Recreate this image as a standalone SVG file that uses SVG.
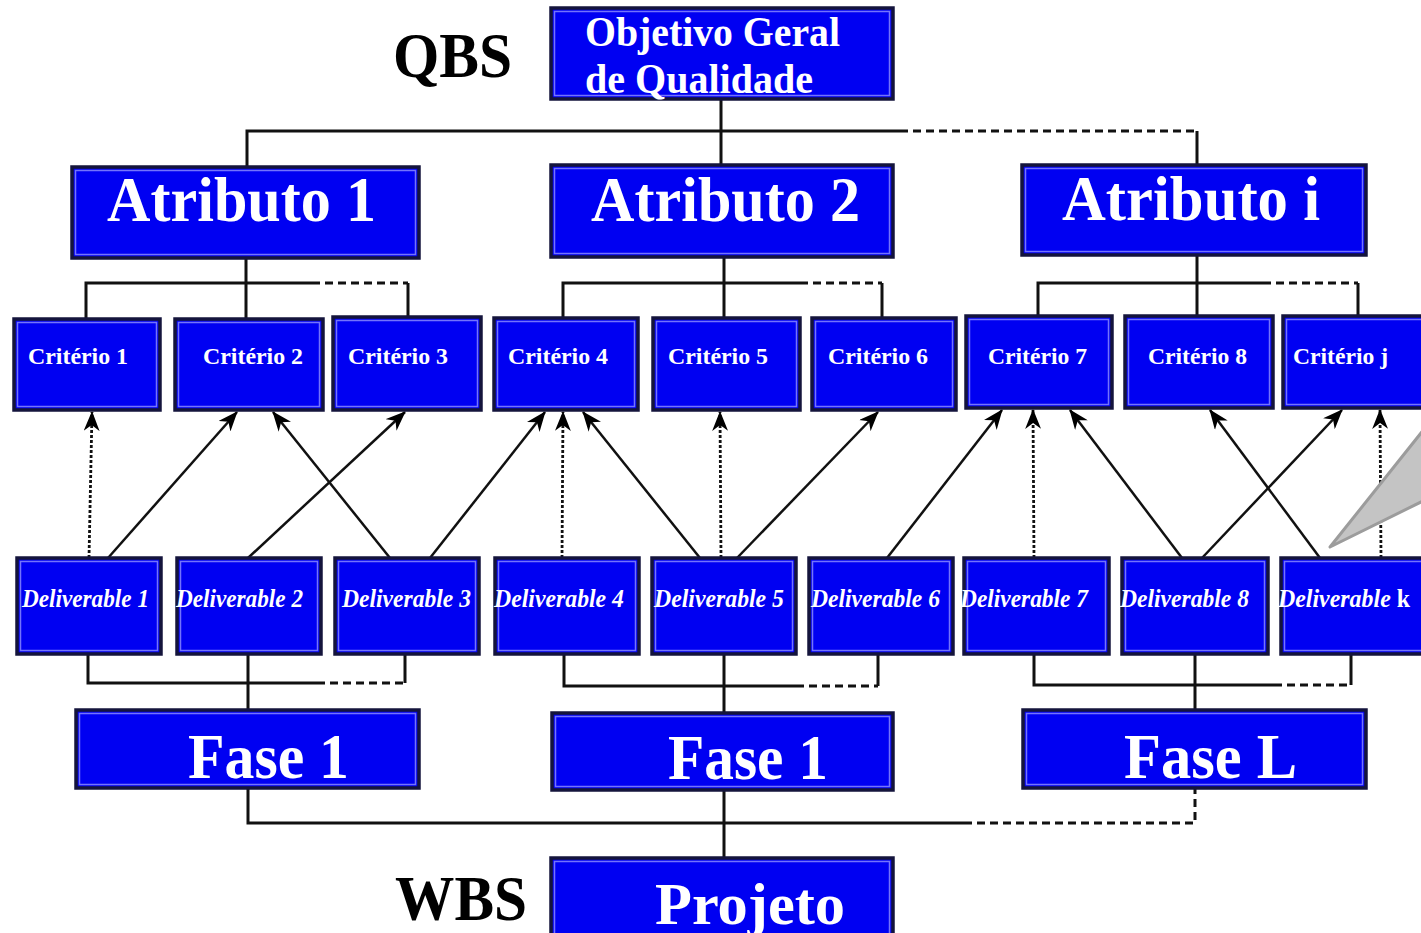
<svg xmlns="http://www.w3.org/2000/svg" width="1421" height="933" viewBox="0 0 1421 933">
  <style>
    .box { fill: #0000f2; stroke: #14143c; stroke-width: 3.5; }
    .hl { fill: none; stroke: #9a9aff; stroke-width: 1.5; opacity: 0.75; }
    .t { font-family: "Liberation Serif", "Times New Roman", serif; font-weight: bold; fill: #ffffff; }
    .big { font-size: 64px; }
    .mid { font-size: 43px; }
    .crit { font-size: 24px; }
    .del { font-size: 25px; font-style: italic; }
    .up { font-style: normal; }
    .lbl { font-family: "Liberation Serif", "Times New Roman", serif; font-weight: bold; font-size: 64px; fill: #000000; }
    .ln { fill: none; stroke: #111111; stroke-width: 3; }
    .dash { fill: none; stroke: #111111; stroke-width: 3; stroke-dasharray: 8 5; }
    .arr { fill: none; stroke: #111111; stroke-width: 2.5; marker-end: url(#head); }
    .dot { fill: none; stroke: #111111; stroke-width: 2.8; stroke-dasharray: 3 2; marker-end: url(#head); }
    .callout { fill: #c4c4c4; stroke: #9c9c9c; stroke-width: 3; stroke-linejoin: round; }
  </style>
  <defs>
    <marker id="head" viewBox="0 0 20 16" refX="19" refY="8" markerWidth="20" markerHeight="16" markerUnits="userSpaceOnUse" orient="auto">
      <path d="M0,0 L20,8 L0,16 L6,8 z" fill="#000000"/>
    </marker>
  </defs>

  <rect width="1421" height="933" fill="#ffffff"/>

  <!-- side labels -->
  <text class="lbl" x="393" y="77" textLength="119" lengthAdjust="spacingAndGlyphs">QBS</text>
  <text class="lbl" x="395" y="920" textLength="132" lengthAdjust="spacingAndGlyphs">WBS</text>

  <g id="connectors">
    <!-- goal to attributes -->
    <path class="ln" d="M721,99 V165 M247,167 V131 H900 M1197,131 V165"/>
    <path class="dash" d="M900,131 H1197"/>
    <!-- attribute 1 to criteria 1-3 -->
    <path class="ln" d="M246,258 V319 M86,319 V283 H312 M408,283 V316"/>
    <path class="dash" d="M312,283 H408"/>
    <!-- attribute 2 to criteria 4-6 -->
    <path class="ln" d="M724,257 V318 M563,318 V283 H800 M882,283 V318"/>
    <path class="dash" d="M800,283 H882"/>
    <!-- attribute i to criteria 7-j -->
    <path class="ln" d="M1197,255 V316 M1038,316 V283 H1263 M1358,283 V316"/>
    <path class="dash" d="M1263,283 H1358"/>

    <!-- deliverables to criteria -->
    <line class="dot" x1="89" y1="558" x2="92" y2="412"/>
    <line class="arr" x1="108" y1="558" x2="237" y2="412"/>
    <line class="arr" x1="248" y1="558" x2="405" y2="412"/>
    <line class="arr" x1="390" y1="558" x2="273" y2="412"/>
    <line class="arr" x1="430" y1="558" x2="545" y2="412"/>
    <line class="dot" x1="562" y1="558" x2="563" y2="412"/>
    <line class="arr" x1="700" y1="558" x2="583" y2="412"/>
    <line class="dot" x1="721" y1="558" x2="720" y2="412"/>
    <line class="arr" x1="737" y1="558" x2="878" y2="412"/>
    <line class="arr" x1="887" y1="558" x2="1002" y2="410"/>
    <line class="dot" x1="1034" y1="558" x2="1033" y2="410"/>
    <line class="arr" x1="1182" y1="558" x2="1070" y2="410"/>
    <line class="arr" x1="1202" y1="558" x2="1342" y2="410"/>
    <line class="arr" x1="1320" y1="558" x2="1210" y2="410"/>
    <line class="dot" x1="1381" y1="558" x2="1380" y2="410"/>

    <!-- deliverables to phases -->
    <path class="ln" d="M88,654 V683 H317 M248,654 V710 M405,654 V683"/>
    <path class="dash" d="M317,683 H405"/>
    <path class="ln" d="M564,654 V686 H796 M724,654 V713 M878,654 V686"/>
    <path class="dash" d="M796,686 H878"/>
    <path class="ln" d="M1034,654 V685 H1274 M1195,654 V710 M1351,654 V685"/>
    <path class="dash" d="M1274,685 H1351"/>

    <!-- phases to project -->
    <path class="ln" d="M248,788 V823 H964 M724,790 V858"/>
    <path class="dash" d="M964,823 H1195 V788"/>
  </g>

  <g id="goal">
    <rect class="box" x="551" y="8" width="342" height="91"/>
    <rect class="hl" x="554.5" y="11.5" width="335" height="84"/>
    <text class="t mid" x="585" y="46" textLength="255" lengthAdjust="spacingAndGlyphs">Objetivo Geral</text>
    <text class="t mid" x="585" y="93" textLength="228" lengthAdjust="spacingAndGlyphs">de Qualidade</text>
  </g>

  <g id="attr1">
    <rect class="box" x="72" y="167" width="347" height="91"/>
    <rect class="hl" x="75.5" y="170.5" width="340" height="84"/>
    <text class="t big" x="107" y="221" textLength="269" lengthAdjust="spacingAndGlyphs">Atributo 1</text>
  </g>
  <g id="attr2">
    <rect class="box" x="551" y="165" width="342" height="92"/>
    <rect class="hl" x="554.5" y="168.5" width="335" height="85"/>
    <text class="t big" x="591" y="221" textLength="269" lengthAdjust="spacingAndGlyphs">Atributo 2</text>
  </g>
  <g id="attri">
    <rect class="box" x="1022" y="165" width="344" height="90"/>
    <rect class="hl" x="1025.5" y="168.5" width="337" height="83"/>
    <text class="t big" x="1062" y="220" textLength="258" lengthAdjust="spacingAndGlyphs">Atributo i</text>
  </g>

  <g id="crit1">
    <rect class="box" x="14" y="319" width="146" height="91"/>
    <rect class="hl" x="17.5" y="322.5" width="139" height="84"/>
    <text class="t crit" x="28" y="364" textLength="100" lengthAdjust="spacingAndGlyphs">Critério 1</text>
  </g>
  <g id="crit2">
    <rect class="box" x="175" y="319" width="148" height="91"/>
    <rect class="hl" x="178.5" y="322.5" width="141" height="84"/>
    <text class="t crit" x="203" y="364" textLength="100" lengthAdjust="spacingAndGlyphs">Critério 2</text>
  </g>
  <g id="crit3">
    <rect class="box" x="333" y="317" width="148" height="93"/>
    <rect class="hl" x="336.5" y="320.5" width="141" height="86"/>
    <text class="t crit" x="348" y="364" textLength="100" lengthAdjust="spacingAndGlyphs">Critério 3</text>
  </g>
  <g id="crit4">
    <rect class="box" x="494" y="318" width="144" height="92"/>
    <rect class="hl" x="497.5" y="321.5" width="137" height="85"/>
    <text class="t crit" x="508" y="364" textLength="100" lengthAdjust="spacingAndGlyphs">Critério 4</text>
  </g>
  <g id="crit5">
    <rect class="box" x="653" y="318" width="147" height="92"/>
    <rect class="hl" x="656.5" y="321.5" width="140" height="85"/>
    <text class="t crit" x="668" y="364" textLength="100" lengthAdjust="spacingAndGlyphs">Critério 5</text>
  </g>
  <g id="crit6">
    <rect class="box" x="812" y="318" width="144" height="92"/>
    <rect class="hl" x="815.5" y="321.5" width="137" height="85"/>
    <text class="t crit" x="828" y="364" textLength="100" lengthAdjust="spacingAndGlyphs">Critério 6</text>
  </g>
  <g id="crit7">
    <rect class="box" x="966" y="316" width="146" height="92"/>
    <rect class="hl" x="969.5" y="319.5" width="139" height="85"/>
    <text class="t crit" x="988" y="364" textLength="99" lengthAdjust="spacingAndGlyphs">Critério 7</text>
  </g>
  <g id="crit8">
    <rect class="box" x="1125" y="316" width="148" height="92"/>
    <rect class="hl" x="1128.5" y="319.5" width="141" height="85"/>
    <text class="t crit" x="1148" y="364" textLength="99" lengthAdjust="spacingAndGlyphs">Critério 8</text>
  </g>
  <g id="critj">
    <rect class="box" x="1283" y="316" width="145" height="92"/>
    <rect class="hl" x="1286.5" y="319.5" width="138" height="85"/>
    <text class="t crit" x="1293" y="364" textLength="95" lengthAdjust="spacingAndGlyphs">Critério j</text>
  </g>

  <g id="deliv1">
    <rect class="box" x="17" y="558" width="144" height="96"/>
    <rect class="hl" x="20.5" y="561.5" width="137" height="89"/>
    <text class="t del" x="22" y="607" textLength="127" lengthAdjust="spacingAndGlyphs">Deliverable 1</text>
  </g>
  <g id="deliv2">
    <rect class="box" x="177" y="558" width="144" height="96"/>
    <rect class="hl" x="180.5" y="561.5" width="137" height="89"/>
    <text class="t del" x="176" y="607" textLength="127" lengthAdjust="spacingAndGlyphs">Deliverable 2</text>
  </g>
  <g id="deliv3">
    <rect class="box" x="335" y="558" width="144" height="96"/>
    <rect class="hl" x="338.5" y="561.5" width="137" height="89"/>
    <text class="t del" x="342" y="607" textLength="129" lengthAdjust="spacingAndGlyphs">Deliverable 3</text>
  </g>
  <g id="deliv4">
    <rect class="box" x="495" y="558" width="144" height="96"/>
    <rect class="hl" x="498.5" y="561.5" width="137" height="89"/>
    <text class="t del" x="494" y="607" textLength="130" lengthAdjust="spacingAndGlyphs">Deliverable 4</text>
  </g>
  <g id="deliv5">
    <rect class="box" x="652" y="558" width="144" height="96"/>
    <rect class="hl" x="655.5" y="561.5" width="137" height="89"/>
    <text class="t del" x="654" y="607" textLength="130" lengthAdjust="spacingAndGlyphs">Deliverable 5</text>
  </g>
  <g id="deliv6">
    <rect class="box" x="809" y="558" width="144" height="96"/>
    <rect class="hl" x="812.5" y="561.5" width="137" height="89"/>
    <text class="t del" x="811" y="607" textLength="129" lengthAdjust="spacingAndGlyphs">Deliverable 6</text>
  </g>
  <g id="deliv7">
    <rect class="box" x="964" y="558" width="145" height="96"/>
    <rect class="hl" x="967.5" y="561.5" width="138" height="89"/>
    <text class="t del" x="960" y="607" textLength="128" lengthAdjust="spacingAndGlyphs">Deliverable 7</text>
  </g>
  <g id="deliv8">
    <rect class="box" x="1122" y="558" width="146" height="96"/>
    <rect class="hl" x="1125.5" y="561.5" width="139" height="89"/>
    <text class="t del" x="1120" y="607" textLength="129" lengthAdjust="spacingAndGlyphs">Deliverable 8</text>
  </g>
  <g id="delivk">
    <rect class="box" x="1281" y="558" width="147" height="96"/>
    <rect class="hl" x="1284.5" y="561.5" width="140" height="89"/>
    <text class="t del" x="1278" y="607" textLength="132" lengthAdjust="spacingAndGlyphs">Deliverable <tspan class="up">k</tspan></text>
  </g>

  <g id="fase1a">
    <rect class="box" x="76" y="710" width="343" height="78"/>
    <rect class="hl" x="79.5" y="713.5" width="336" height="71"/>
    <text class="t big" x="188" y="778" textLength="161" lengthAdjust="spacingAndGlyphs">Fase 1</text>
  </g>
  <g id="fase1b">
    <rect class="box" x="552" y="713" width="341" height="77"/>
    <rect class="hl" x="555.5" y="716.5" width="334" height="70"/>
    <text class="t big" x="668" y="779" textLength="160" lengthAdjust="spacingAndGlyphs">Fase 1</text>
  </g>
  <g id="faseL">
    <rect class="box" x="1023" y="710" width="343" height="78"/>
    <rect class="hl" x="1026.5" y="713.5" width="336" height="71"/>
    <text class="t big" x="1124" y="778" textLength="173" lengthAdjust="spacingAndGlyphs">Fase L</text>
  </g>

  <g id="projeto">
    <rect class="box" x="551" y="858" width="342" height="90"/>
    <rect class="hl" x="554.5" y="861.5" width="335" height="83"/>
    <text class="t" x="655" y="924" textLength="190" lengthAdjust="spacingAndGlyphs" style="font-size:60px">Projeto</text>
  </g>

  <!-- pointer shape at the right edge -->
  <polygon class="callout" points="1330,547 1425,428 1425,500"/>
</svg>
